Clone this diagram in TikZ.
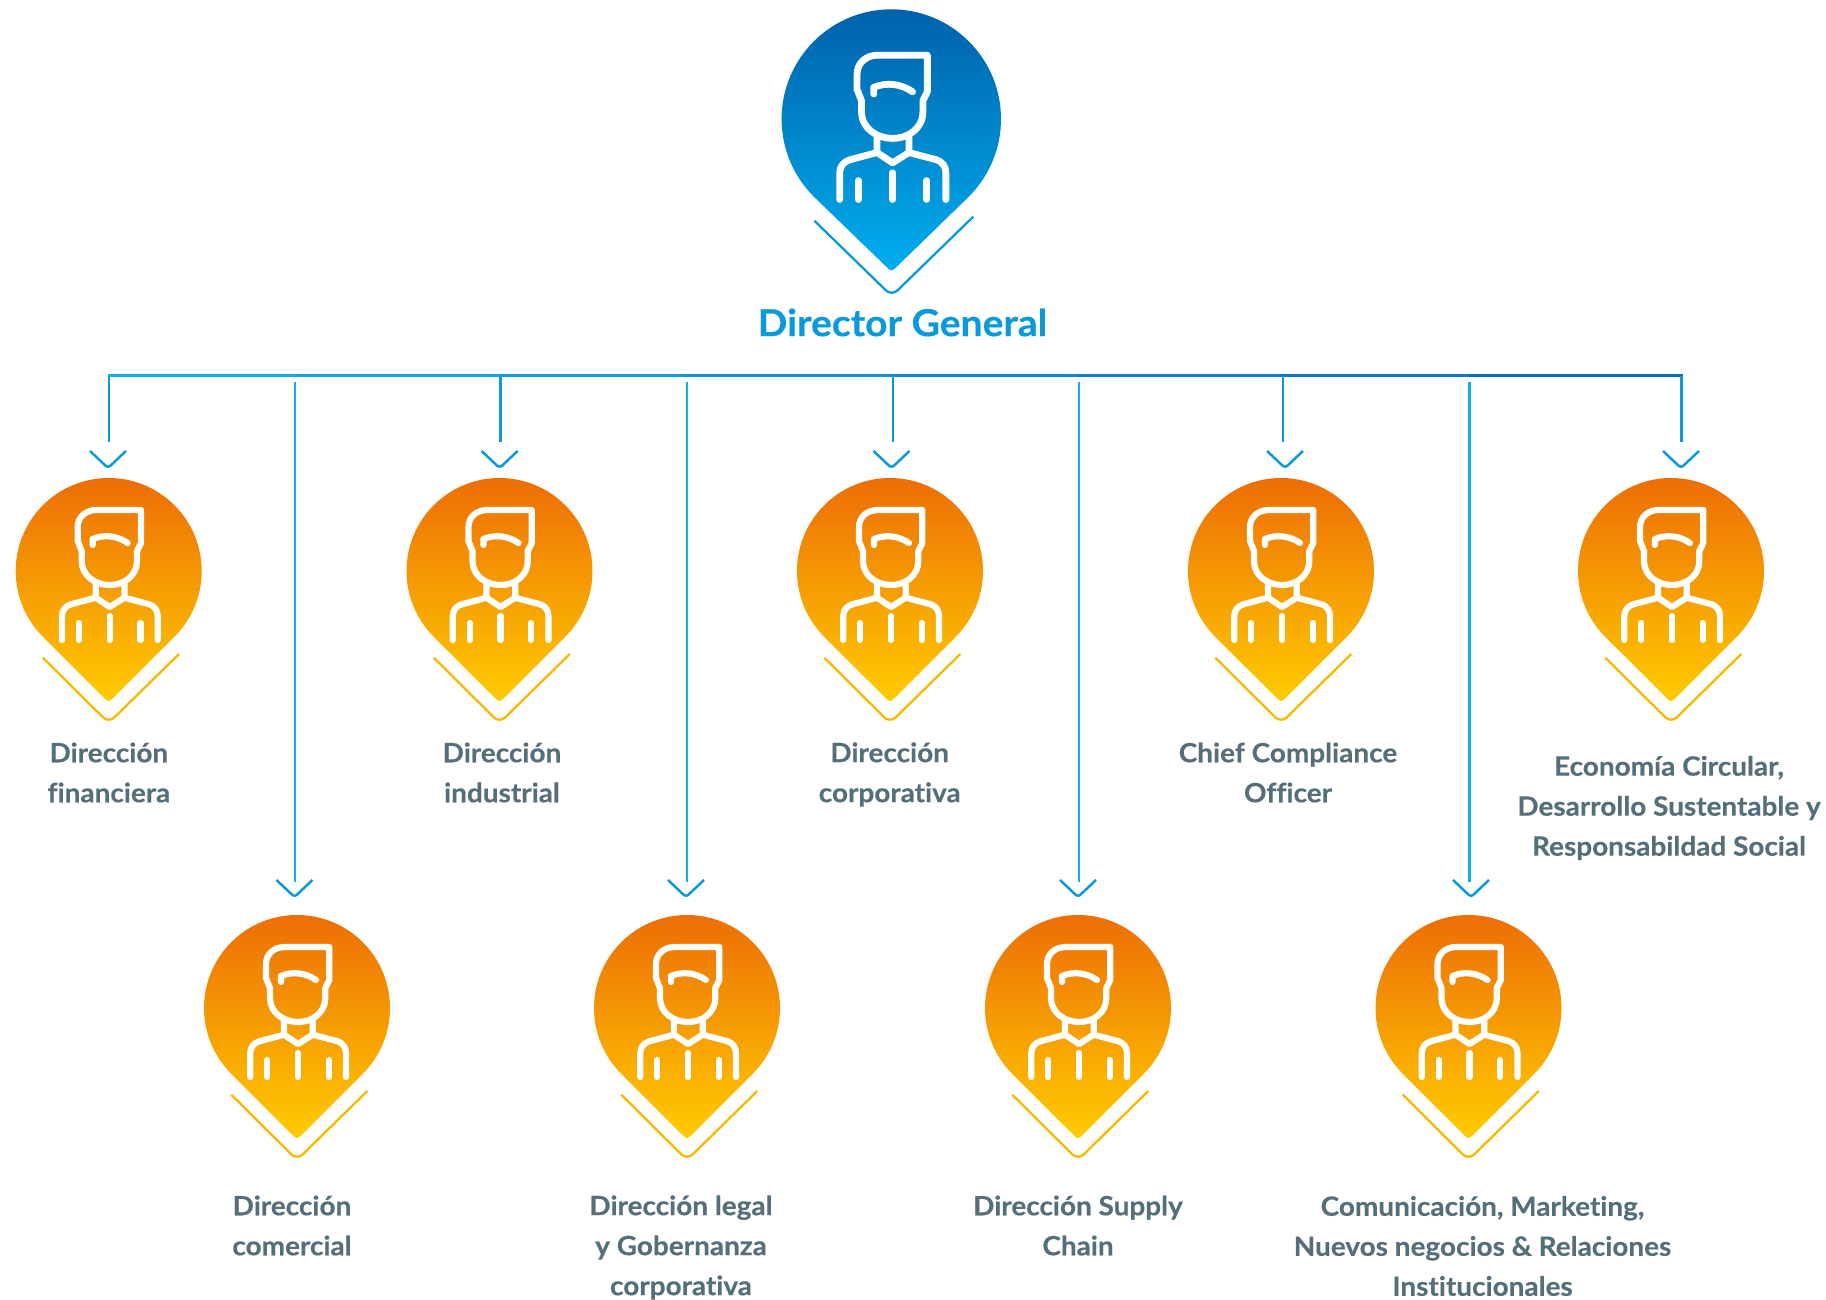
\documentclass[tikz,border=0pt]{standalone}
\usepackage{fontspec}
\setmainfont{Lato}[Ligatures=NoCommon,BoldFeatures={FakeBold=0.35,FakeStretch=1.05}]
\definecolor{trunkleft}{HTML}{11AEEA}
\definecolor{trunkright}{HTML}{0A66B0}
\definecolor{topdark}{HTML}{005EA8}
\definecolor{toplight}{HTML}{00AEEF}
\definecolor{chevblue}{HTML}{0A9ADB}
\definecolor{chevorange}{HTML}{FBB800}
\definecolor{pintop}{HTML}{EC6A06}
\definecolor{pinbottom}{HTML}{FFCC00}
\definecolor{labelgrey}{HTML}{546E7A}
\tikzset{
	personline/.style={draw=white,line width=3.1pt,line cap=round,line join=round},
	boxlabel/.style={align=center,text=labelgrey,font=\fontsize{13.3}{20}\selectfont\bfseries,inner sep=0pt},
	arrowhead/.style={draw=chevblue,line width=1.25pt,line join=round,rounded corners=1.5pt},
	pics/person/.style={code={
		\draw[personline] (27.3,11) -- (27.3,21) -- (31.3,29) -- (31.3,62) -- (-13,62) .. controls (-25,62) and (-32,54) .. (-32,45) -- (-32,31) -- (-28,21) -- (-28,11) .. controls (-28,-4) and (-14,-13) .. (0,-13) .. controls (14,-13) and (27.3,-4) .. (27.3,11);
		\draw[personline] (-17,27) -- (-17,33) .. controls (-5,38) and (8,36) .. (18,29);
		\draw[personline] (-47.7,-68) -- (-47.7,-44) .. controls (-47.7,-38) and (-44,-34) .. (-38.7,-32.3) -- (-14,-25.7) -- (-14,-11);
		\draw[personline] (48,-68) -- (48,-44) .. controls (48,-38) and (44.5,-34) .. (39.7,-32.3) -- (14.7,-25.7) -- (14.7,-11);
		\draw[personline] (-14,-25.7) -- (0,-35) -- (14.7,-25.7);
		\draw[personline] (-30.7,-51) -- (-30.7,-68);
		\draw[personline] (0,-44) -- (0,-68);
		\draw[personline] (30.7,-51) -- (30.7,-68);
	}},
	pics/smallpin/.style={code={
		\shade[top color=pintop,bottom color=pinbottom] (225:93) arc[start angle=225,end angle=-45,radius=93] -- (6,-125.5) .. controls (0,-131.5) .. (-6,-125.5) -- cycle;
		\draw[draw=chevorange,line width=1.15pt,rounded corners=4pt] (-65.7,-86.7) -- (0,-152) -- (70.3,-83);
		\pic at (1,-1) {person};
	}}
}
\begin{document}
\begin{tikzpicture}[x=.5pt,y=.5pt]
	\useasboundingbox (0,0) rectangle (1826,-1300);
	% top pin
	\shade[top color=topdark,bottom color=toplight] (891.3,-119)+(225:109.7) arc[start angle=225,end angle=-45,radius=109.7] -- (898,-265.5) .. controls (891.5,-272) .. (885,-265.5) -- cycle;
	\draw[chevblue,line width=1.15pt,rounded corners=4pt] (814.3,-220.7) -- (891.7,-296) -- (973.3,-216.7);
	\pic[scale=1.11,personline/.append style={line width=3.4pt}] at (892.6,-124) {person};
	\node[font=\fontsize{18.6}{20}\selectfont\bfseries,text=chevblue,inner sep=0pt] (top) at (902.5,-322.5) {Director General};

	% trunk, blue gets darker to the right
	\foreach \name/\xpos/\nextx/\mix in {a/109/295/0,b/295/500/12,c/500/687/25,d/687/893/37,e/893/1078/50,f/1078/1283/62,g/1283/1470/75,h/1470/1681.5/90} {
		\coordinate (\name1) at (\xpos,-375.5);
		\coordinate (\name2) at (\nextx,-375.5);
		\draw[trunkright!\mix!trunkleft,line width=1.3pt,line cap=rect] (\name1) -- (\name2);
	}

	% first row
	\foreach \name/\xpos/\lx/\ax in {fin/108.7/109/108,ind/499.5/500.7/499.6,cor/890/893/891.5,chi/1281/1283/1285,eco/1671/1681.5/1681} {
		\pic at (\xpos,-571) {smallpin};
		\coordinate (\name top) at (\lx,-375.5);
		\coordinate (\name end) at (\lx,-442);
		\draw[trunkleft!70!trunkright,line width=1.25pt] (\name top) -- (\name end);
		\draw[arrowhead] (\ax-18,-451) -- (\ax,-468) -- (\ax+18,-451);
	}
	% second row
	\foreach \name/\xpos/\lx/\ax in {com/297/295/294.5,leg/687/687/686,sup/1078/1079/1078,mar/1468.5/1469.5/1471} {
		\pic at (\xpos,-1008) {smallpin};
		\coordinate (\name top) at (\lx,-382);
		\coordinate (\name end) at (\lx,-881.5);
		\draw[trunkleft,line width=1.25pt] (\name top) -- (\name end);
		\draw[arrowhead] (\ax-18,-880) -- (\ax,-897) -- (\ax+18,-880);
	}

	\node[boxlabel] (finlabel) at (108.9,-772.5) {Dirección\\financiera};
	\node[boxlabel] (indlabel) at (502,-772.5) {Dirección\\industrial};
	\node[boxlabel] (corlabel) at (889.7,-774.5) {Dirección\\corporativa};
	\node[boxlabel] (chilabel) at (1288,-772.5) {Chief Compliance\\Officer};
	\node[boxlabel] (ecolabel) at (1669,-808) {Economía Circular,\\Desarrollo Sustentable y\\Responsabildad Social};
	\node[boxlabel] (comlabel) at (292,-1225.5) {Dirección\\comercial};
	\node[boxlabel] (leglabel) at (681,-1247.5) {Dirección legal\\y Gobernanza\\corporativa};
	\node[boxlabel] (suplabel) at (1078,-1225.5) {Dirección Supply\\Chain};
	\node[boxlabel] (marlabel) at (1482.5,-1246) {Comunicación, Marketing,\\Nuevos negocios \& Relaciones\\Institucionales};
\end{tikzpicture}
\end{document}
